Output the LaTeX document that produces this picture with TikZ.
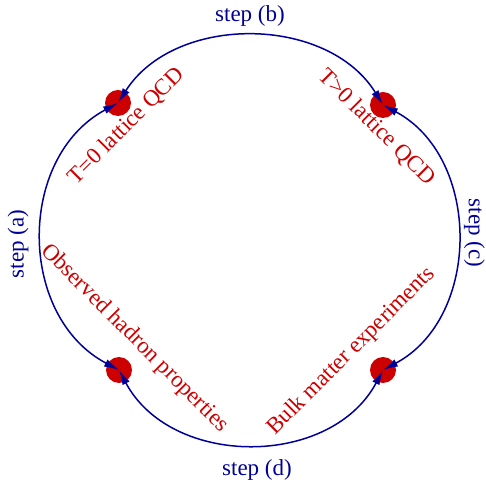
\documentclass[tikz,border=0pt]{standalone}
\usepackage{fontspec}
\setmainfont{Liberation Serif}
\usetikzlibrary{arrows.meta, positioning}
\definecolor{arcblue}{RGB}{0,0,150}
\definecolor{dotred}{RGB}{204,0,0}

\begin{document}
\begin{tikzpicture}[x=1pt, y=1pt,
		dot/.style={circle, fill=dotred, minimum size=26pt, inner sep=0pt},
		link/.style={draw=arcblue, line width=1.5pt, {Latex[length=15pt,width=8pt]}-{Latex[length=15pt,width=8pt]}},
		steplabel/.style={text=arcblue, font=\fontsize{23}{27}\selectfont},
		boxlabel/.style={text=dotred, font=\fontsize{23}{27}\selectfont}]
	\useasboundingbox (0,0) rectangle (486,487);
	% Draw the four red dots
	\node[dot] (tzero)  at (118,384) {};
	\node[dot] (tpos)   at (383,382) {};
	\node[dot] (hadron) at (119,117) {};
	\node[dot] (bulk)   at (383,117) {};

	% Connect the dots with arcs
	\draw[link] (tzero.center) to[bend left=58, looseness=1.02] (tpos.center);
	\draw[link] (tzero.center) to[bend right=62, looseness=1.1] (hadron.center);
	\draw[link] (tpos.center) to[bend left=62, looseness=1.08] (bulk.center);
	\draw[link] (hadron.center) to[bend right=62, looseness=1.08] (bulk.center);

	% Add the step labels
	\node[steplabel] (sb) at (250,471) {step (b)};
	\node[steplabel, rotate=90] (sa) at (18,243) {step (a)};
	\node[steplabel, rotate=-90] (sc) at (474.5,254) {step (c)};
	\node[steplabel] (sd) at (257,17) {step (d)};

	% Add the red texts along the diagonals
	\node[boxlabel, rotate=45] (lzero) at (126.5,361) {T=0 lattice QCD};
	\node[boxlabel, rotate=-45] (lpos) at (376.5,359.5) {T>0 lattice QCD};
	\node[boxlabel, rotate=-45] (lhad) at (134.5,148.5) {Observed hadron properties};
	\node[boxlabel, rotate=45] (lbulk) at (351.5,135.5) {Bulk matter experiments};
\end{tikzpicture}
\end{document}
